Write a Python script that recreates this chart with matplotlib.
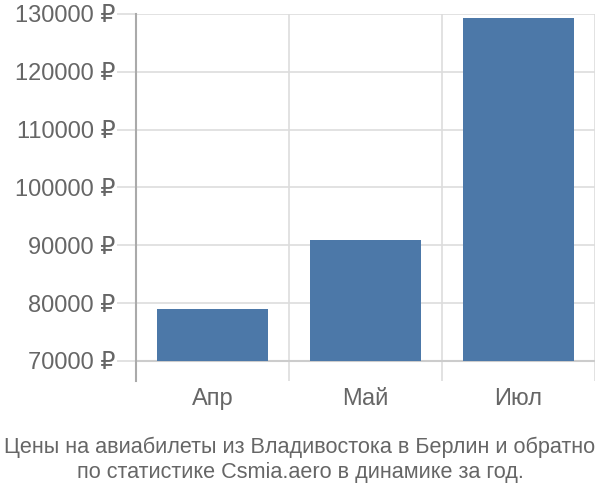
import matplotlib
matplotlib.use("Agg")
import matplotlib.pyplot as plt
from matplotlib.ticker import FuncFormatter, FixedLocator

plt.rcParams['font.family'] = ['Liberation Sans', 'DejaVu Sans']

categories = ["Апр", "Май", "Июл"]
values = [79000, 90900, 129300]
yticks = [70000, 80000, 90000, 100000, 110000, 120000, 130000]
title = "Цены на авиабилеты из Владивостока в Берлин и обратно\nпо статистике Csmia.aero в динамике за год."

fig = plt.figure(figsize=(6, 5), dpi=100)
ax = fig.add_axes([0.2267, 0.238, 0.765, 0.734])

base = 70000
x = list(range(len(categories)))
ax.bar(x, [v - base for v in values], bottom=base, width=0.72, color="#4c78a8", zorder=3)

ax.set_xlim(-0.5, len(categories) - 0.5)
ax.set_ylim(66540, 130000)

ax.yaxis.set_major_locator(FixedLocator(yticks))
ax.yaxis.set_major_formatter(FuncFormatter(lambda v, p: f"{int(v)} ₽"))
ax.set_xticks(x)
ax.set_xticklabels(categories)

ax.grid(axis='y', color="#dddddd", linewidth=1.2, zorder=0)
ax.set_xticks([i + 0.5 for i in range(len(categories))], minor=True)
ax.grid(axis='x', which='minor', color="#dddddd", linewidth=1.2, zorder=0)
ax.axhline(base, color="#cccccc", linewidth=1.5, zorder=2)

for s in ['top', 'right', 'bottom']:
    ax.spines[s].set_visible(False)
ax.spines['left'].set_color("#aaaaaa")
ax.spines['left'].set_linewidth(1.5)

ax.tick_params(axis='y', length=14, color="#dddddd", width=1.2, pad=1, labelsize=17, labelcolor="#666666")
ax.tick_params(axis='x', which='major', length=0, pad=5, labelsize=17, labelcolor="#666666")
ax.tick_params(axis='x', which='minor', length=0)

fig.text(0.5, 0.081, title, ha='center', va='center', fontsize=15.6, color="#666666", linespacing=1.25)

fig.savefig("out.png", dpi=100)
